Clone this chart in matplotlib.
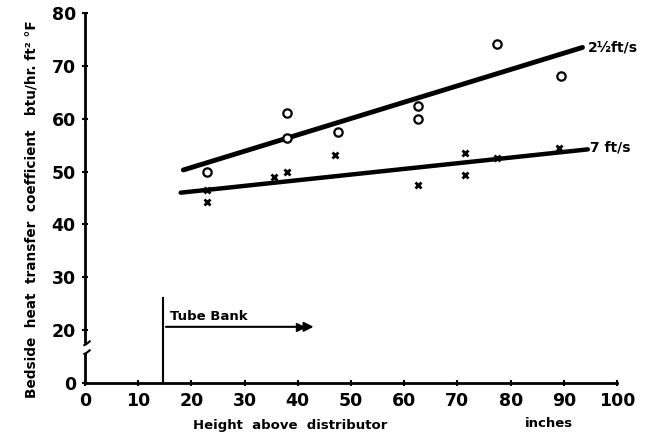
import numpy as np
import matplotlib.pyplot as plt

# data
# circles: 2.5 ft/s
x_slow = [23, 38, 38, 47.5, 62.5, 62.5, 77.5, 89.5]
h_slow = [50, 61, 56.3, 57.5, 62.5, 60, 74.2, 68]
# crosses: 7 ft/s
x_fast = [23, 23, 35.5, 38, 47, 62.5, 71.5, 71.5, 77.5, 89]
h_fast = [46.5, 44.2, 49, 50, 53.2, 47.5, 53.5, 49.3, 52.5, 54.5]

# fitted lines (end points)
fit_slow_x = [18.5, 93.5]
fit_slow_y = [50.3, 73.5]
fit_fast_x = [18, 94.5]
fit_fast_y = [46, 54.2]

tube_bank_x = 14.7
xticks = [0, 10, 20, 30, 40, 50, 60, 70, 80, 90, 100]
yticks = [0, 20, 30, 40, 50, 60, 70, 80]


# broken y axis: 0..20 squeezed into one step
def fwd(v):
    v = np.asarray(v, dtype=float)
    return np.where(v >= 20, v - 10, v / 2)


def inv(u):
    u = np.asarray(u, dtype=float)
    return np.where(u >= 10, u + 10, u * 2)


plt.rcParams['font.family'] = ['DejaVu Sans']
plt.rcParams['font.weight'] = 'bold'

fig = plt.figure(figsize=(6.53, 4.37), dpi=100)
ax = fig.add_axes([0.130, 0.124, 0.815, 0.846])
ax.set_yscale('function', functions=(fwd, inv))
ax.set_xlim(0, 100)
ax.set_ylim(0, 80)

for s in ['top', 'right']:
    ax.spines[s].set_visible(False)
for s in ['left', 'bottom']:
    ax.spines[s].set_linewidth(2)

ax.set_xticks(xticks)
ax.set_yticks(yticks)
ax.tick_params(direction='inout', length=5, width=1.5, labelsize=12.5, pad=4)
for lab in ax.get_xticklabels() + ax.get_yticklabels():
    lab.set_fontweight('bold')

# fits
ax.plot(fit_slow_x, fit_slow_y, color='black', lw=3.5, solid_capstyle='round')
ax.plot(fit_fast_x, fit_fast_y, color='black', lw=3.2, solid_capstyle='round')

# points
ax.plot(x_slow, h_slow, 'o', mfc='white', mec='black', ms=6, mew=1.6)
ax.plot(x_fast, h_fast, 'x', color='black', ms=5, mew=2)

ax.text(fit_slow_x[1] + 1, fit_slow_y[1], '2½ft/s', fontsize=10,
        fontweight='bold', va='center', ha='left')
ax.text(fit_fast_x[1] + 0.5, fit_fast_y[1] + 0.3, '7 ft/s', fontsize=10,
        fontweight='bold', va='center', ha='left')

# tube bank marker
ax.plot([tube_bank_x, tube_bank_x], [0, 26], color='black', lw=1.5)
ax.annotate('', xy=(43.5, 20.6), xytext=(tube_bank_x, 20.6),
            arrowprops=dict(arrowstyle='-|>', color='black', lw=1.5,
                            mutation_scale=14))
ax.plot([40.5], [20.6], marker='>', color='black', ms=6)
ax.text(16, 22.6, 'Tube Bank', fontsize=9.5, fontweight='bold',
        ha='left', va='center')

# axis break on the y spine
ax.add_patch(plt.Rectangle((-0.01, 0.082), 0.02, 0.024, transform=ax.transAxes,
                           color='white', clip_on=False, zorder=5))
for yb in [0.106, 0.082]:
    ax.plot([-0.001, 0.004, 0.009], [yb - 0.004, yb, yb + 0.006],
            transform=ax.transAxes, color='black', lw=1.5, clip_on=False,
            zorder=6)

ax.set_ylabel('Bedside  heat  transfer  coefficient   btu/hr. ft² °F',
              fontsize=9.8, fontweight='bold', labelpad=8)
ax.yaxis.set_label_coords(-0.088, 0.47)
fig.text(0.296, 0.027, 'Height  above  distributor', fontsize=9.5,
         fontweight='bold', ha='left', va='center')
fig.text(0.84, 0.032, 'inches', fontsize=9.5, fontweight='bold',
         ha='center', va='center')

fig.savefig('out.png', dpi=100)
